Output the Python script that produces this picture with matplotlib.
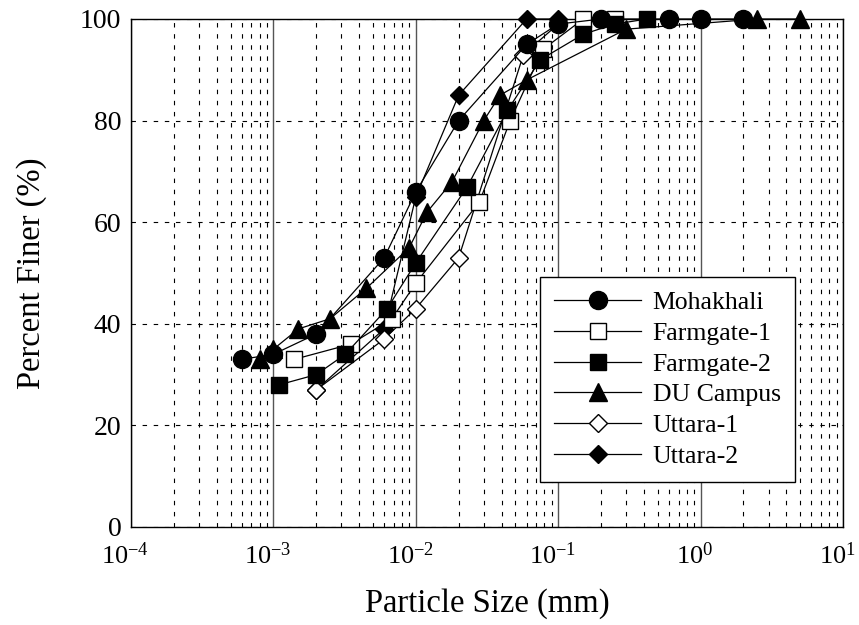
import matplotlib
matplotlib.use('Agg')
import matplotlib.pyplot as plt
import matplotlib.transforms as mtransforms
from matplotlib.ticker import LogLocator, FixedLocator, NullFormatter

plt.rcParams['font.family'] = 'Liberation Serif'
plt.rcParams['mathtext.fontset'] = 'stix'

# sieve / hydrometer results per site
moh_x = [0.0006, 0.001, 0.002, 0.006, 0.01, 0.02, 0.06, 0.1, 0.2, 0.6, 1.0, 2.0]
moh_y = [33, 34, 38, 53, 66, 80, 95, 99, 100, 100, 100, 100]

fg1_x = [0.0014, 0.0035, 0.0068, 0.01, 0.028, 0.046, 0.078, 0.15, 0.25]
fg1_y = [33, 36, 41, 48, 64, 80, 94, 100, 100]

fg2_x = [0.0011, 0.002, 0.0032, 0.0063, 0.01, 0.023, 0.044, 0.075, 0.15, 0.25, 0.42]
fg2_y = [28, 30, 34, 43, 52, 67, 82, 92, 97, 99, 100]

du_x = [0.0008, 0.001, 0.0015, 0.0025, 0.0045, 0.009, 0.012, 0.018, 0.03, 0.039, 0.06, 0.3, 2.5, 5.0]
du_y = [33, 35, 39, 41, 47, 55, 62, 68, 80, 85, 88, 98, 100, 100]

ut1_x = [0.002, 0.006, 0.01, 0.02, 0.057, 0.1]
ut1_y = [27, 37, 43, 53, 93, 99]

ut2_x = [0.002, 0.006, 0.01, 0.02, 0.06, 0.1]
ut2_y = [27, 39, 65, 85, 100, 100]

fig = plt.figure(figsize=(8.59, 6.25), dpi=100)
ax = fig.add_axes([0.1525, 0.1568, 0.9814 - 0.1525, 0.9696 - 0.1568])

kw = dict(color='black', lw=0.9, clip_on=False)
h_ut2, = ax.plot(ut2_x, ut2_y, marker='D', ms=9, mfc='black', mec='black', label='Uttara-2', zorder=3, **kw)
h_ut1, = ax.plot(ut1_x, ut1_y, marker='D', ms=9, mfc='white', mec='black', mew=1.0, label='Uttara-1', zorder=3.1, **kw)
h_du, = ax.plot(du_x, du_y, marker='^', ms=12.5, mfc='black', mec='black', label='DU Campus', zorder=3.2, **kw)
h_fg1, = ax.plot(fg1_x, fg1_y, marker='s', ms=11.5, mfc='white', mec='black', mew=1.0, label='Farmgate-1', zorder=3.3, **kw)
h_fg2, = ax.plot(fg2_x, fg2_y, marker='s', ms=12, mfc='black', mec='black', label='Farmgate-2', zorder=3.4, **kw)
h_moh, = ax.plot(moh_x, moh_y, marker='o', ms=13, mfc='black', mec='black', label='Mohakhali', zorder=3.5, **kw)

ax.set_xscale('log')
ax.set_xlim(1e-4, 10)
ax.set_ylim(0, 100)
ax.xaxis.set_major_locator(LogLocator(base=10, numticks=10))
ax.xaxis.set_minor_locator(LogLocator(base=10, subs=range(2, 10), numticks=10))
ax.xaxis.set_minor_formatter(NullFormatter())
ax.yaxis.set_major_locator(FixedLocator([0, 20, 40, 60, 80, 100]))

ax.grid(True, which='major', axis='x', color='#555555', lw=1.0, ls='-')
ax.grid(True, which='minor', axis='x', color='black', lw=0.8, ls=(0, (4, 6)))
ax.grid(True, which='major', axis='y', color='black', lw=0.8, ls=(0, (4, 6)))
ax.set_axisbelow(True)

ax.tick_params(axis='both', which='major', labelsize=20, direction='in', length=0)
ax.tick_params(axis='x', which='major', labelsize=19, pad=11)
ax.tick_params(axis='y', which='major', pad=7)
ax.tick_params(axis='x', which='minor', length=0)
for s in ax.spines.values():
    s.set_linewidth(1.0)

# nudge the decade labels left so the last one stays inside the figure
shift = mtransforms.ScaledTranslation(-4 / 72, 0, fig.dpi_scale_trans)
for lbl in ax.get_xticklabels():
    lbl.set_transform(lbl.get_transform() + shift)

ax.set_xlabel('Particle Size (mm)', fontsize=23.5, labelpad=14)
ax.set_ylabel('Percent Finer (%)', fontsize=23.5, labelpad=24)

leg = ax.legend([h_moh, h_fg1, h_fg2, h_du, h_ut1, h_ut2],
                ['Mohakhali', 'Farmgate-1', 'Farmgate-2', 'DU Campus', 'Uttara-1', 'Uttara-2'],
                loc='upper left', bbox_to_anchor=(0.574, 0.492), fontsize=18.5,
                frameon=True, fancybox=False, framealpha=1, edgecolor='black',
                handlelength=3.4, handletextpad=0.45, labelspacing=0.3, borderpad=0.55,
                borderaxespad=0)
leg.get_frame().set_linewidth(1.0)
leg.set_zorder(5)

fig.savefig('out.png', dpi=100)
